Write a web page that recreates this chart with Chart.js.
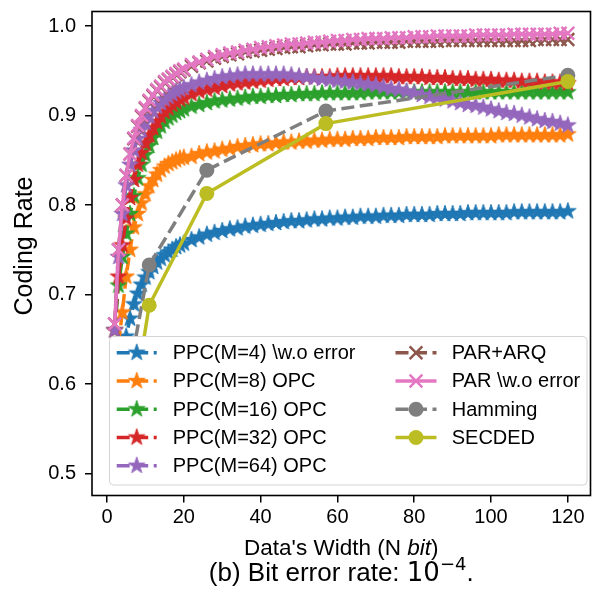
<!DOCTYPE html>
<html>
<head>
<meta charset="utf-8">
<script src="https://cdn.jsdelivr.net/npm/chart.js@4.4.0/dist/chart.umd.min.js"></script>
<style>
  html, body { margin: 0; padding: 0; background: #fff; overflow: hidden; }
  #marco { position: relative; width: 595px; height: 589px; overflow: hidden; }
  #grafico { position: absolute; left: 0; top: 0; }
</style>
</head>
<body>
<div id="marco"><canvas id="grafico" width="602" height="589"></canvas></div>
<script>
// Anchos de datos (N bit) de las curvas PPC / PAR
const anchoDatos = [
  2, 3, 4, 5, 6, 7, 8, 9, 10, 11, 12, 13, 14, 15, 16, 17, 18, 19, 20,
  22, 24, 26, 28, 30, 32, 34, 36, 38, 40,
  42, 44, 46, 48, 50, 52, 54, 56, 58, 60,
  62, 64, 66, 68, 70, 72, 74, 76, 78, 80,
  82, 84, 86, 88, 90, 92, 94, 96, 98, 100,
  102, 104, 106, 108, 110, 112, 114, 116, 118, 120
];

// null: sin marca visible en N=2
const ppcM4 = [
  null, 0.581, 0.624, 0.653, 0.673, 0.689, 0.701, 0.711, 0.719, 0.725, 0.731, 0.736, 0.740, 0.744, 0.747, 0.750, 0.753, 0.755, 0.757,
  0.761, 0.764, 0.767, 0.769, 0.771, 0.773, 0.774, 0.776, 0.777, 0.778,
  0.779, 0.780, 0.781, 0.782, 0.782, 0.783, 0.784, 0.784, 0.785, 0.785,
  0.786, 0.786, 0.787, 0.787, 0.787, 0.788, 0.788, 0.788, 0.789, 0.789,
  0.789, 0.789, 0.790, 0.790, 0.790, 0.790, 0.791, 0.791, 0.791, 0.791,
  0.791, 0.791, 0.792, 0.792, 0.792, 0.792, 0.792, 0.792, 0.792, 0.793
];
const ppcM8 = [
  null, 0.645, 0.680, 0.720, 0.750, 0.775, 0.790, 0.802, 0.812, 0.821, 0.828, 0.834, 0.839, 0.843, 0.846, 0.848, 0.850, 0.852, 0.853,
  0.854, 0.857, 0.859, 0.860, 0.862, 0.863, 0.865, 0.866, 0.867, 0.868,
  0.868, 0.869, 0.870, 0.870, 0.871, 0.871, 0.872, 0.872, 0.873, 0.873,
  0.873, 0.874, 0.874, 0.874, 0.875, 0.875, 0.875, 0.875, 0.876, 0.876,
  0.876, 0.876, 0.876, 0.877, 0.877, 0.877, 0.877, 0.877, 0.877, 0.877,
  0.878, 0.878, 0.878, 0.878, 0.878, 0.878, 0.878, 0.878, 0.878, 0.879
];
const ppcM16 = [
  0.660, 0.710, 0.742, 0.768, 0.790, 0.810, 0.830, 0.845, 0.856, 0.866, 0.875, 0.882, 0.888, 0.893, 0.897, 0.900, 0.903, 0.905, 0.907,
  0.910, 0.912, 0.914, 0.916, 0.917, 0.918, 0.919, 0.920, 0.921, 0.921,
  0.922, 0.922, 0.923, 0.923, 0.924, 0.924, 0.924, 0.925, 0.925, 0.925,
  0.925, 0.925, 0.925, 0.926, 0.926, 0.926, 0.926, 0.926, 0.926, 0.926,
  0.926, 0.926, 0.926, 0.926, 0.926, 0.926, 0.926, 0.926, 0.926, 0.926,
  0.926, 0.926, 0.926, 0.926, 0.926, 0.926, 0.926, 0.926, 0.926, 0.926
];
const ppcM32 = [
  0.660, 0.720, 0.755, 0.785, 0.808, 0.828, 0.845, 0.858, 0.869, 0.878, 0.886, 0.893, 0.899, 0.904, 0.908, 0.912, 0.915, 0.918, 0.920,
  0.924, 0.927, 0.929, 0.931, 0.933, 0.935, 0.936, 0.937, 0.938, 0.939,
  0.940, 0.941, 0.941, 0.942, 0.942, 0.943, 0.943, 0.943, 0.943, 0.944,
  0.944, 0.944, 0.944, 0.944, 0.944, 0.944, 0.944, 0.943, 0.943, 0.943,
  0.943, 0.942, 0.942, 0.942, 0.941, 0.941, 0.941, 0.940, 0.940, 0.940,
  0.939, 0.939, 0.939, 0.938, 0.938, 0.938, 0.937, 0.937, 0.937, 0.936
];
const ppcM64 = [
  0.660, 0.742, 0.790, 0.822, 0.845, 0.861, 0.874, 0.884, 0.892, 0.899, 0.905, 0.910, 0.914, 0.918, 0.921, 0.924, 0.927, 0.929, 0.931,
  0.934, 0.937, 0.939, 0.941, 0.943, 0.944, 0.945, 0.946, 0.946, 0.946,
  0.946, 0.946, 0.946, 0.945, 0.944, 0.943, 0.942, 0.941, 0.940, 0.939,
  0.938, 0.937, 0.936, 0.935, 0.934, 0.932, 0.930, 0.929, 0.927, 0.925,
  0.923, 0.921, 0.920, 0.918, 0.916, 0.914, 0.912, 0.911, 0.909, 0.907,
  0.905, 0.903, 0.902, 0.900, 0.898, 0.896, 0.894, 0.893, 0.891, 0.889
];
const parArq = [
  0.667, 0.750, 0.800, 0.833, 0.857, 0.874, 0.888, 0.899, 0.908, 0.916, 0.922, 0.928, 0.932, 0.937, 0.940, 0.943, 0.946, 0.949, 0.951,
  0.955, 0.959, 0.961, 0.964, 0.966, 0.968, 0.969, 0.971, 0.972, 0.973,
  0.974, 0.975, 0.976, 0.977, 0.977, 0.978, 0.979, 0.979, 0.980, 0.980,
  0.980, 0.981, 0.981, 0.981, 0.982, 0.982, 0.982, 0.982, 0.983, 0.983,
  0.983, 0.983, 0.983, 0.984, 0.984, 0.984, 0.984, 0.984, 0.984, 0.984,
  0.984, 0.984, 0.984, 0.984, 0.984, 0.985, 0.985, 0.985, 0.985, 0.985
];
const parSinError = [
  0.667, 0.750, 0.800, 0.833, 0.857, 0.875, 0.889, 0.900, 0.909, 0.917, 0.923, 0.929, 0.933, 0.938, 0.941, 0.944, 0.947, 0.950, 0.952,
  0.957, 0.960, 0.963, 0.966, 0.968, 0.970, 0.971, 0.973, 0.974, 0.976,
  0.977, 0.978, 0.979, 0.980, 0.980, 0.981, 0.982, 0.982, 0.983, 0.984,
  0.984, 0.985, 0.985, 0.986, 0.986, 0.986, 0.987, 0.987, 0.987, 0.988,
  0.988, 0.988, 0.989, 0.989, 0.989, 0.989, 0.989, 0.990, 0.990, 0.990,
  0.990, 0.990, 0.991, 0.991, 0.991, 0.991, 0.991, 0.991, 0.992, 0.992
];

// Códigos clásicos
const anchoHamming = [4, 11, 26, 57, 120];
const tasaHamming = [0.571, 0.733, 0.839, 0.905, 0.945];
const tasaSecded = [0.500, 0.688, 0.813, 0.891, 0.938];

const ticksX = [0, 20, 40, 60, 80, 100, 120];
const ticksY = [0.5, 0.6, 0.7, 0.8, 0.9, 1.0];

const etiquetas = [
  'PPC(M=4) \\w.o error', 'PPC(M=8) OPC', 'PPC(M=16) OPC', 'PPC(M=32) OPC', 'PPC(M=64) OPC',
  'PAR+ARQ', 'PAR \\w.o error', 'Hamming', 'SECDED'
];
const colores = ['#1f77b4', '#ff7f0e', '#2ca02c', '#d62728', '#9467bd', '#8c564b', '#e377c2', '#7f7f7f', '#bcbd22'];

const FUENTE = 'Liberation Sans, Arial, sans-serif';
const GUION = [13, 5.5];

// Estrella rellena tipo matplotlib
function crearEstrella(color, r) {
  const lado = Math.ceil(r * 2 + 4);
  const c = document.createElement('canvas');
  c.width = lado;
  c.height = lado;
  const g = c.getContext('2d');
  g.translate(lado / 2, lado / 2);
  g.beginPath();
  for (let i = 0; i < 10; i++) {
    const rad = i % 2 === 0 ? r : r * 0.381966;
    const ang = -Math.PI / 2 + i * Math.PI / 5;
    g.lineTo(Math.cos(ang) * rad, Math.sin(ang) * rad);
  }
  g.closePath();
  g.fillStyle = color;
  g.fill();
  g.lineWidth = 1;
  g.strokeStyle = color;
  g.stroke();
  return c;
}

function puntos(xs, ys) {
  return xs.map((x, i) => ({ x, y: ys[i] }));
}

const seriesPPC = [ppcM4, ppcM8, ppcM16, ppcM32, ppcM64];
const datasets = [];
seriesPPC.forEach((serie, i) => {
  datasets.push({
    label: etiquetas[i],
    data: puntos(anchoDatos, serie),
    borderColor: colores[i],
    backgroundColor: colores[i],
    borderWidth: 3.5,
    borderDash: GUION,
    pointStyle: crearEstrella(colores[i], 8.7),
    pointRadius: 8
  });
});
datasets.push({
  label: etiquetas[5], data: puntos(anchoDatos, parArq),
  borderColor: colores[5], backgroundColor: colores[5], borderWidth: 3.5, borderDash: GUION,
  pointStyle: 'crossRot', pointRadius: 9, pointBorderWidth: 2.5, pointBorderColor: colores[5]
});
datasets.push({
  label: etiquetas[6], data: puntos(anchoDatos, parSinError),
  borderColor: colores[6], backgroundColor: colores[6], borderWidth: 3.5,
  pointStyle: 'crossRot', pointRadius: 9, pointBorderWidth: 2.5, pointBorderColor: colores[6]
});
datasets.push({
  label: etiquetas[7], data: puntos(anchoHamming, tasaHamming),
  borderColor: colores[7], backgroundColor: colores[7], borderWidth: 3.5, borderDash: GUION,
  pointStyle: 'circle', pointRadius: 7.5, pointBorderWidth: 0, pointBackgroundColor: colores[7]
});
datasets.push({
  label: etiquetas[8], data: puntos(anchoHamming, tasaSecded),
  borderColor: colores[8], backgroundColor: colores[8], borderWidth: 3.5,
  pointStyle: 'circle', pointRadius: 7.5, pointBorderWidth: 0, pointBackgroundColor: colores[8]
});
// orden de dibujo como matplotlib: la última serie queda encima
datasets.forEach((ds, i) => { ds.order = datasets.length - i; ds.tension = 0; });

// Marcador de la leyenda
function dibujarMarcador(ctx, ds, x, y) {
  const estilo = ds.pointStyle;
  if (estilo instanceof HTMLCanvasElement) {
    ctx.drawImage(estilo, x - estilo.width / 2, y - estilo.height / 2);
  } else if (estilo === 'crossRot') {
    const d = ds.pointRadius * Math.SQRT1_2;
    ctx.strokeStyle = ds.borderColor;
    ctx.lineWidth = ds.pointBorderWidth;
    ctx.setLineDash([]);
    ctx.beginPath();
    ctx.moveTo(x - d, y - d); ctx.lineTo(x + d, y + d);
    ctx.moveTo(x - d, y + d); ctx.lineTo(x + d, y - d);
    ctx.stroke();
  } else {
    ctx.fillStyle = ds.borderColor;
    ctx.beginPath();
    ctx.arc(x, y, ds.pointRadius, 0, Math.PI * 2);
    ctx.fill();
  }
}

function dibujarLeyenda(chart) {
  const ctx = chart.ctx;
  const caja = { x: 109.5, y: 336.5, w: 477.5, h: 148.5 };
  ctx.save();
  ctx.beginPath();
  ctx.roundRect(caja.x, caja.y, caja.w, caja.h, 4);
  ctx.fillStyle = '#ffffff';
  ctx.fill();
  ctx.lineWidth = 1;
  ctx.strokeStyle = '#d4d4d4';
  ctx.stroke();

  const columnas = [
    { x0: 116.7, x1: 156.7, xt: 172.7, series: [0, 1, 2, 3, 4] },
    { x0: 395.5, x1: 436.5, xt: 451.7, series: [5, 6, 7, 8] }
  ];
  const fila0 = 352.7, paso = 28.25;
  ctx.font = '20px ' + FUENTE;
  ctx.textBaseline = 'middle';
  columnas.forEach(col => {
    col.series.forEach((k, f) => {
      const ds = chart.data.datasets[k];
      const y = fila0 + f * paso;
      ctx.strokeStyle = ds.borderColor;
      ctx.lineWidth = ds.borderWidth;
      ctx.setLineDash(ds.borderDash || []);
      ctx.beginPath();
      ctx.moveTo(col.x0, y);
      ctx.lineTo(col.x1, y);
      ctx.stroke();
      ctx.setLineDash([]);
      dibujarMarcador(ctx, ds, (col.x0 + col.x1) / 2, y);
      ctx.fillStyle = '#000';
      ctx.fillText(etiquetas[k], col.xt, y + 1);
    });
  });
  ctx.restore();
}

function dibujarTextos(chart) {
  const ctx = chart.ctx;
  const area = chart.chartArea;
  const cx = (area.left + area.right) / 2;
  ctx.save();
  ctx.fillStyle = '#000';
  ctx.textBaseline = 'middle';

  // Título eje Y
  ctx.save();
  ctx.translate(25, 246);
  ctx.rotate(-Math.PI / 2);
  ctx.textAlign = 'center';
  ctx.font = '25px ' + FUENTE;
  ctx.fillText('Coding Rate', 0, 0);
  ctx.restore();

  // Título eje X con "bit" en cursiva
  ctx.textAlign = 'left';
  const normal = '22.5px ' + FUENTE;
  const cursiva = 'italic 22.5px ' + FUENTE;
  const partes = [['Data\'s Width (N ', normal], ['bit', cursiva], [')', normal]];
  let ancho = 0;
  partes.forEach(p => { ctx.font = p[1]; ancho += ctx.measureText(p[0]).width; });
  let x = cx - ancho / 2;
  const yTitulo = 549;
  partes.forEach(p => { ctx.font = p[1]; ctx.fillText(p[0], x, yTitulo); x += ctx.measureText(p[0]).width; });

  // Pie: (b) Bit error rate: 10^-4.
  const yPie = 574;
  const fPie = '26px ' + FUENTE;
  const fMate = '26px DejaVu Sans, sans-serif';
  const fSup = '18px DejaVu Sans, sans-serif';
  const piezas = [
    ['(b) Bit error rate: ', fPie, 0],
    ['10', fMate, 0],
    ['\u22124', fSup, -9],
    ['.', fPie, 0]
  ];
  ancho = 0;
  piezas.forEach(p => { ctx.font = p[1]; ancho += ctx.measureText(p[0]).width; });
  x = cx - ancho / 2;
  piezas.forEach(p => { ctx.font = p[1]; ctx.fillText(p[0], x, yPie + p[2]); x += ctx.measureText(p[0]).width; });
  ctx.restore();
}

const extras = {
  id: 'extras',
  afterDatasetsDraw(chart) {
    const a = chart.chartArea;
    const ctx = chart.ctx;
    ctx.save();
    ctx.strokeStyle = '#000';
    ctx.lineWidth = 1.6;
    ctx.strokeRect(a.left, a.top, a.right - a.left, a.bottom - a.top);
    ctx.restore();
  },
  afterDraw(chart) {
    dibujarLeyenda(chart);
    dibujarTextos(chart);
  }
};

const ctxGrafico = document.getElementById('grafico').getContext('2d');
const grafico = new Chart(ctxGrafico, {
  type: 'line',
  data: { datasets },
  plugins: [extras],
  options: {
    responsive: false,
    animation: false,
    events: [],
    layout: { padding: { left: 0, top: 6, right: 2, bottom: 0 } },
    plugins: { legend: { display: false }, tooltip: { enabled: false } },
    scales: {
      x: {
        type: 'linear',
        min: -3.9,
        max: 125.9,
        afterBuildTicks: s => { s.ticks = ticksX.map(v => ({ value: v })); },
        afterFit: s => { s.height = 93.5; s.paddingLeft = 0; s.paddingRight = 0; },
        border: { display: false },
        grid: { drawOnChartArea: false, tickLength: 7, color: '#000', lineWidth: 1.5 },
        ticks: {
          color: '#000', padding: 3, maxRotation: 0, autoSkip: false,
          font: { family: FUENTE, size: 20 },
          callback: v => String(v)
        }
      },
      y: {
        type: 'linear',
        min: 0.4754,
        max: 1.0163,
        afterBuildTicks: s => { s.ticks = ticksY.map(v => ({ value: v })); },
        afterFit: s => { s.width = 92; s.paddingTop = 0; s.paddingBottom = 0; },
        border: { display: false },
        grid: { drawOnChartArea: false, tickLength: 7, color: '#000', lineWidth: 1.5 },
        ticks: {
          color: '#000', padding: 9, autoSkip: false,
          font: { family: FUENTE, size: 20 },
          callback: v => v.toFixed(1)
        }
      }
    }
  }
});
</script>
</body>
</html>
